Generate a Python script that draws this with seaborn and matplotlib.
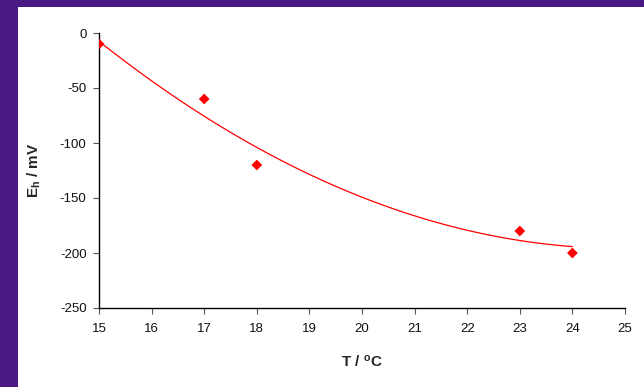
import matplotlib
matplotlib.use("Agg")
import matplotlib.pyplot as plt
import seaborn as sns
import pandas as pd
from matplotlib.patches import Rectangle

temperature = [15, 17, 18, 23, 24]
potential = [-10, -60, -120, -180, -200]
x_ticks = [15, 16, 17, 18, 19, 20, 21, 22, 23, 24, 25]
y_ticks = [0, -50, -100, -150, -200, -250]

sns.set_theme(style="white")
plt.rcParams['font.family'] = ['Liberation Sans', 'DejaVu Sans']
plt.rcParams['axes.unicode_minus'] = False
plt.rcParams['mathtext.fontset'] = 'custom'
plt.rcParams['mathtext.rm'] = 'Liberation Sans:bold'
plt.rcParams['mathtext.bf'] = 'Liberation Sans:bold'

df = pd.DataFrame({"T": temperature, "E": potential})

fig = plt.figure(figsize=(6.44, 3.87), dpi=100)
fig.patch.set_facecolor("#4a1a84")
fig.patches.append(Rectangle((18 / 644, 0), 1 - 18 / 644, (387 - 7) / 387,
                             transform=fig.transFigure, facecolor="white",
                             edgecolor="none", zorder=-5))

ax = fig.add_axes([99 / 644, 1 - 308 / 387, (625 - 99) / 644, (308 - 33) / 387])
ax.set_zorder(2)
ax.set_facecolor("none")

sns.regplot(data=df, x="T", y="E", order=2, ci=None, ax=ax,
            marker="D",
            scatter_kws=dict(color="#ff0000", s=30, alpha=1, edgecolor="none", zorder=3),
            line_kws=dict(color="#ff0000", lw=0.9, zorder=2))

ax.set_xlim(15, 25)
ax.set_ylim(-250, 0)
ax.set_xticks(x_ticks)
ax.set_yticks(y_ticks)
ax.tick_params(axis="both", direction="out", length=4, width=0.8,
               color="#555555", labelsize=9.5, labelcolor="#111111", pad=5,
               left=True, bottom=True)
ax.tick_params(axis="x", pad=7)
for s in ["top", "right"]:
    ax.spines[s].set_visible(False)
for s in ["left", "bottom"]:
    ax.spines[s].set_color("black")
    ax.spines[s].set_linewidth(1.0)

ax.set_xlabel(r"T / $\mathbf{^o}$C", fontsize=11, fontweight="bold", labelpad=13)
ax.set_ylabel(r"$\mathbf{E_h}$ / mV", fontsize=11, fontweight="bold", labelpad=12)

fig.savefig("out.png", dpi=100, facecolor=fig.get_facecolor())
